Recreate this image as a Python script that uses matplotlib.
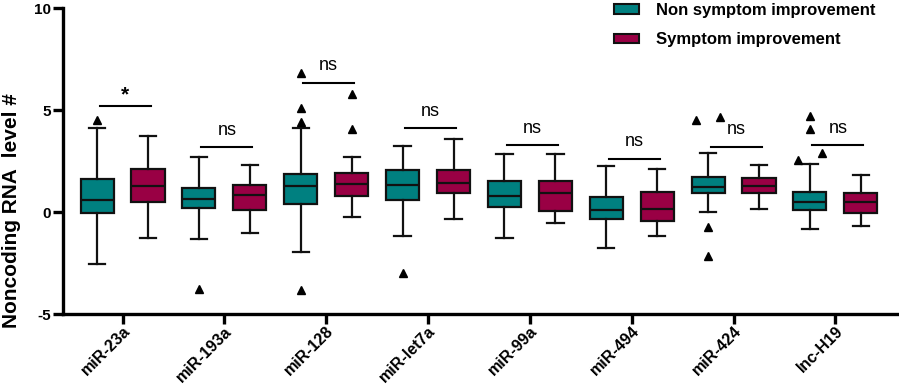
import matplotlib
matplotlib.use("Agg")
import matplotlib.pyplot as plt
from matplotlib.patches import Patch
from matplotlib.transforms import ScaledTranslation
import numpy as np

# ---- data ----
categories = ['miR-23a', 'miR-193a', 'miR-128', 'miR-let7a', 'miR-99a', 'miR-494', 'miR-424', 'lnc-H19']
series_names = ['Non symptom improvement', 'Symptom improvement']

non_whislo = [-2.56, -1.32, -1.94, -1.19, -1.27, -1.78, 0.00, -0.85]
non_q1 = [-0.03, 0.18, 0.38, 0.57, 0.25, -0.34, 0.92, 0.08]
non_med = [0.59, 0.62, 1.27, 1.34, 0.78, 0.11, 1.24, 0.51]
non_q3 = [1.62, 1.16, 1.88, 2.06, 1.50, 0.74, 1.70, 0.98]
non_whishi = [4.10, 2.68, 4.10, 3.24, 2.84, 2.25, 2.89, 2.35]
non_outliers = [[4.50], [-3.76], [6.80, 5.11, 4.43, -3.82], [-3.01], [], [],
                [4.51, 4.64, -0.75, -2.14], [4.72, 4.05, 2.55, 2.88]]

imp_whislo = [-1.29, -1.05, -0.23, -0.34, -0.54, -1.16, 0.16, -0.70]
imp_q1 = [0.51, 0.08, 0.78, 0.92, 0.07, -0.42, 0.95, -0.05]
imp_med = [1.29, 0.82, 1.36, 1.44, 0.95, 0.16, 1.26, 0.49]
imp_q3 = [2.11, 1.32, 1.90, 2.06, 1.52, 1.00, 1.65, 0.95]
imp_whishi = [3.73, 2.29, 2.68, 3.58, 2.83, 2.11, 2.32, 1.83]
imp_outliers = [[], [], [5.77, 4.07], [], [], [], [], []]

sig_labels = ['*', 'ns', 'ns', 'ns', 'ns', 'ns', 'ns', 'ns']
sig_bar_y = [5.20, 3.17, 6.34, 4.10, 3.27, 2.61, 3.19, 3.27]

yticks = [-5, 0, 5, 10]

# ---- style ----
TEAL = '#008080'
RED = '#990044'
FONT = 'Liberation Sans'
plt.rcParams['font.family'] = [FONT, 'DejaVu Sans']

fig = plt.figure(figsize=(8.99, 3.87), dpi=100)
W, H = 899, 387
ax = fig.add_axes([63 / W, 1 - 314 / H, (897 - 63) / W, (314 - 8) / H])

LW = 1.6

def make_stats(wl, q1, med, q3, wh):
    return [dict(whislo=a, q1=b, med=c, q3=d, whishi=e, fliers=[]) for a, b, c, d, e in zip(wl, q1, med, q3, wh)]

n = len(categories)
pos_non = np.arange(n) * 2.0
pos_imp = np.arange(n) * 2.0 + 1.0

for stats, pos, col in [(make_stats(non_whislo, non_q1, non_med, non_q3, non_whishi), pos_non, TEAL),
                        (make_stats(imp_whislo, imp_q1, imp_med, imp_q3, imp_whishi), pos_imp, RED)]:
    ax.bxp(stats, positions=pos, widths=0.65, patch_artist=True, showfliers=False,
           boxprops=dict(facecolor=col, edgecolor='#111111', linewidth=LW),
           medianprops=dict(color='#111111', linewidth=LW),
           whiskerprops=dict(color='#111111', linewidth=LW),
           capprops=dict(color='#111111', linewidth=LW),
           capwidths=0.32, manage_ticks=False)

def spread(vals):
    # small horizontal offsets for outliers that would overlap
    vals = sorted(vals)
    offs = [0.0] * len(vals)
    i = 0
    while i < len(vals):
        j = i
        while j + 1 < len(vals) and vals[j + 1] - vals[j] < 0.5:
            j += 1
        k = j - i + 1
        if k > 1:
            for m in range(k):
                offs[i + m] = (m - (k - 1) / 2) * 0.48
        i = j + 1
    return vals, offs

for outs, pos in [(non_outliers, pos_non), (imp_outliers, pos_imp)]:
    for p, vals in zip(pos, outs):
        if not vals:
            continue
        v, o = spread(vals)
        ax.plot(p + np.array(o), v, linestyle='none', marker='^', ms=5.5, color='black')

# significance bars
for i, (lab, yb) in enumerate(zip(sig_labels, sig_bar_y)):
    x0, x1 = pos_non[i] + 0.05, pos_imp[i] + 0.05
    ax.plot([x0, x1], [yb, yb], color='black', lw=1.5)
    if lab == '*':
        ax.text((x0 + x1) / 2, yb + 0.55, lab, ha='center', va='center', fontsize=15, fontweight='bold')
    else:
        ax.text((x0 + x1) / 2, yb + 0.83, lab, ha='center', va='center', fontsize=13)

ax.set_xlim(-0.67, 2 * n - 1 + 0.71)
ax.set_ylim(-5, 10)
ax.set_yticks(yticks)
ax.set_yticklabels([str(t) for t in yticks], fontsize=11, fontweight='bold')
centers = (pos_non + pos_imp) / 2
ax.set_xticks(centers)
ax.set_xticklabels([''] * n)
lab_tr = ax.get_xaxis_transform() + ScaledTranslation(5 / 100, -15 / 100, fig.dpi_scale_trans)
for c, name in zip(centers, categories):
    ax.text(c, 0, name, transform=lab_tr, rotation=45, ha='right', va='center',
            rotation_mode='anchor', fontsize=11.5, fontweight='bold', clip_on=False)
for s in ['top', 'right']:
    ax.spines[s].set_visible(False)
for s in ['left', 'bottom']:
    ax.spines[s].set_linewidth(2.4)
ax.tick_params(axis='both', width=2.4, length=7, color='black')
ax.tick_params(axis='y', pad=2)

ax.set_ylabel('Noncoding RNA  level #', fontsize=15, fontweight='bold', va='center')
ax.yaxis.set_label_coords(-0.062, 0.337)

handles = [Patch(facecolor=TEAL, edgecolor='#111111', linewidth=1.5),
           Patch(facecolor=RED, edgecolor='#111111', linewidth=1.5)]
fig.legend(handles, series_names, loc='upper left', bbox_to_anchor=(614 / W, 1 - 3 / H),
           frameon=False, borderpad=0, borderaxespad=0, handlelength=1.5, handleheight=0.5,
           handletextpad=1.05, labelspacing=0.85, prop=dict(family=FONT, weight='bold', size=12))

fig.savefig('out.png', dpi=100)
